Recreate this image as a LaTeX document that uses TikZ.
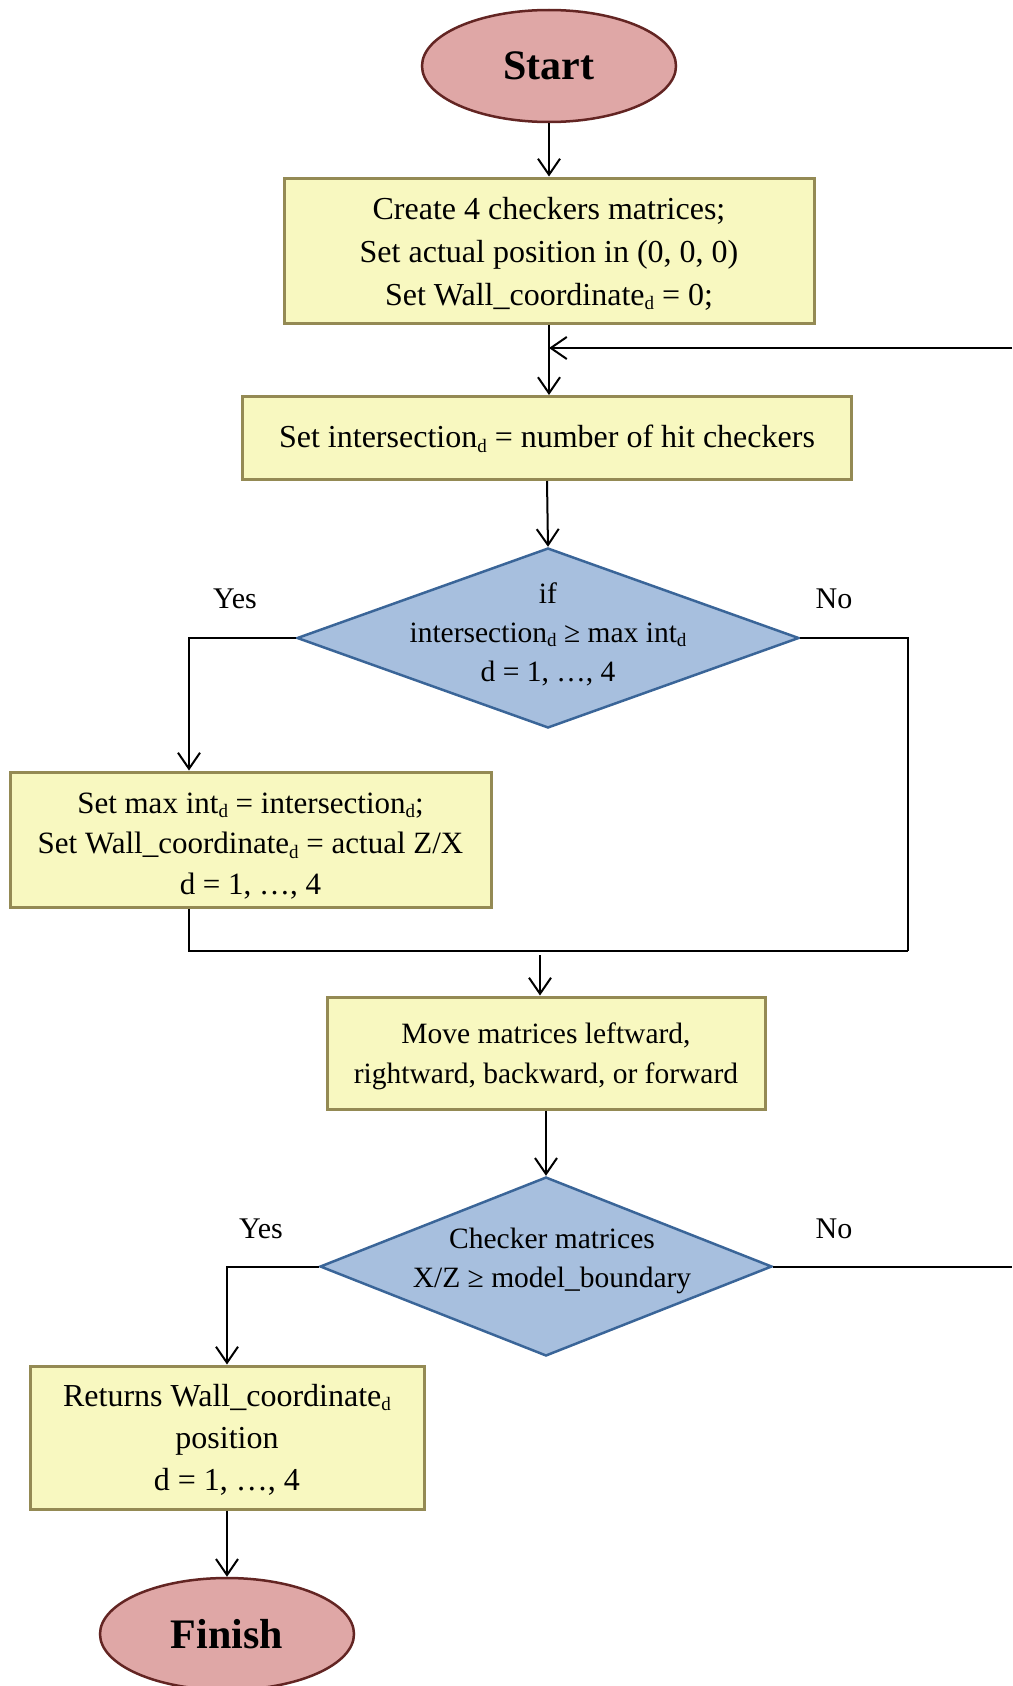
\documentclass[tikz,border=0pt]{standalone}
\usepackage{fontspec}
\setmainfont{Liberation Serif}
\usetikzlibrary{shapes.geometric,arrows.meta}
\definecolor{termfill}{HTML}{DFA7A6}
\definecolor{termdraw}{HTML}{632523}
\definecolor{procfill}{HTML}{F8F8C0}
\definecolor{procdraw}{HTML}{948A54}
\definecolor{decfill}{HTML}{A7BFDE}
\definecolor{decdraw}{HTML}{3A6598}
% small lowered "d" index
\newcommand\dsub{\raisebox{-0.3ex}{\fontsize{19}{19}\selectfont d}}

\begin{document}
\begin{tikzpicture}[x=1pt,y=-1pt,
  term/.style={ellipse, draw=termdraw, fill=termfill, line width=2.5pt,
    minimum width=254pt, minimum height=112pt, inner sep=0pt,
    font=\fontsize{42}{50}\selectfont\bfseries},
  proc/.style={rectangle, draw=procdraw, fill=procfill, line width=3pt, inner sep=0pt},
  boxtext/.style={align=center, inner sep=0pt},
  dec/.style={diamond, draw=decdraw, fill=decfill, line width=2.5pt, inner sep=0pt},
  dectext/.style={align=center, font=\fontsize{29.5}{39}\selectfont, inner sep=0pt},
  lbl/.style={font=\fontsize{30}{36}\selectfont, inner sep=0pt},
  flow/.style={line width=2pt, -{Straight Barb[length=16pt,width=22pt]}},
  link/.style={line width=2pt}
]
\useasboundingbox (0,0) rectangle (1012,1686);

% terminals
\node[term] (start) at (549,66) {Start};
\node[term] (finish) at (227,1634) {Finish};

% process boxes
\node[proc, minimum width=530pt, minimum height=145pt] (b1) at (549,250.5) {};
\node[proc, minimum width=609pt, minimum height=83pt] (b2) at (547,438) {};
\node[proc, minimum width=481pt, minimum height=135pt] (b3) at (250.5,839.5) {};
\node[proc, minimum width=438pt, minimum height=112pt] (b4) at (546,1053) {};
\node[proc, minimum width=394pt, minimum height=143pt] (b5) at (227,1437.5) {};

% decisions
\node[dec, minimum width=502pt, minimum height=180pt] (d1) at (548,638) {};
\node[dec, minimum width=452pt, minimum height=179pt] (d2) at (546,1266.5) {};

% box texts
\node[boxtext, font=\fontsize{32}{43}\selectfont] (b1t) at ([yshift=-3pt]b1.center)
  {Create 4 checkers matrices;\\Set actual position in (0, 0, 0)\\Set Wall\_coordinate\dsub{} = 0;};
\node[boxtext, font=\fontsize{32}{43}\selectfont] (b2t) at ([yshift=-1pt]b2.center)
  {Set intersection\dsub{} = number of hit checkers};
\node[boxtext, font=\fontsize{31}{40.5}\selectfont] (b3t) at ([yshift=-6.5pt]b3.center)
  {Set max int\dsub{} = intersection\dsub;\\Set Wall\_coordinate\dsub{} = actual Z/X\\d = 1, …, 4};
\node[boxtext, font=\fontsize{29.5}{40}\selectfont] (b4t) at ([yshift=-3pt]b4.center)
  {Move matrices leftward,\\rightward, backward, or forward};
\node[boxtext, font=\fontsize{32}{42}\selectfont] (b5t) at ([yshift=-2pt]b5.center)
  {Returns Wall\_coordinate\dsub\\position\\d = 1, …, 4};

% decision texts
\node[dectext] (d1t) at (548,634)
  {if\\intersection\dsub{} ≥ max int\dsub\\d = 1, …, 4};
\node[dectext] (d2t) at (552,1261)
  {Checker matrices\\X/Z ≥ model\_boundary};

% branch labels
\node[lbl] (y1) at (235,599) {Yes};
\node[lbl] (n1) at (834,599) {No};
\node[lbl] (y2) at (261,1229) {Yes};
\node[lbl] (n2) at (834,1229) {No};

% routing points
\coordinate (loopin) at (1012,348);
\coordinate (yes1) at (189,638);
\coordinate (no1) at (908,638);
\coordinate (merge1) at (908,951);
\coordinate (join) at (540,955);
\coordinate (yes2) at (227,1266.5);
\coordinate (no2) at (1012,1266.5);

% connectors
\draw[flow] (start.south) -- (b1.north);
\draw[flow] (b1.south) -- (b1.south |- b2.north);
\draw[flow] (loopin) -- (loopin -| b1.south);
\draw[flow] (b2.south) -- (d1.north);
\draw[flow] (d1.west) -- (yes1) -- (yes1 |- b3.north);
\draw[link] (d1.east) -- (no1) -- (merge1);
\draw[link] (yes1 |- b3.south) -- (yes1 |- merge1) -- (merge1);
\draw[flow] (join) -- (join |- b4.north);
\draw[flow] (b4.south) -- (d2.north);
\draw[flow] (d2.west) -- (yes2) -- (b5.north);
\draw[link] (d2.east) -- (no2);
\draw[flow] (b5.south) -- (finish.north);
\end{tikzpicture}
\end{document}
